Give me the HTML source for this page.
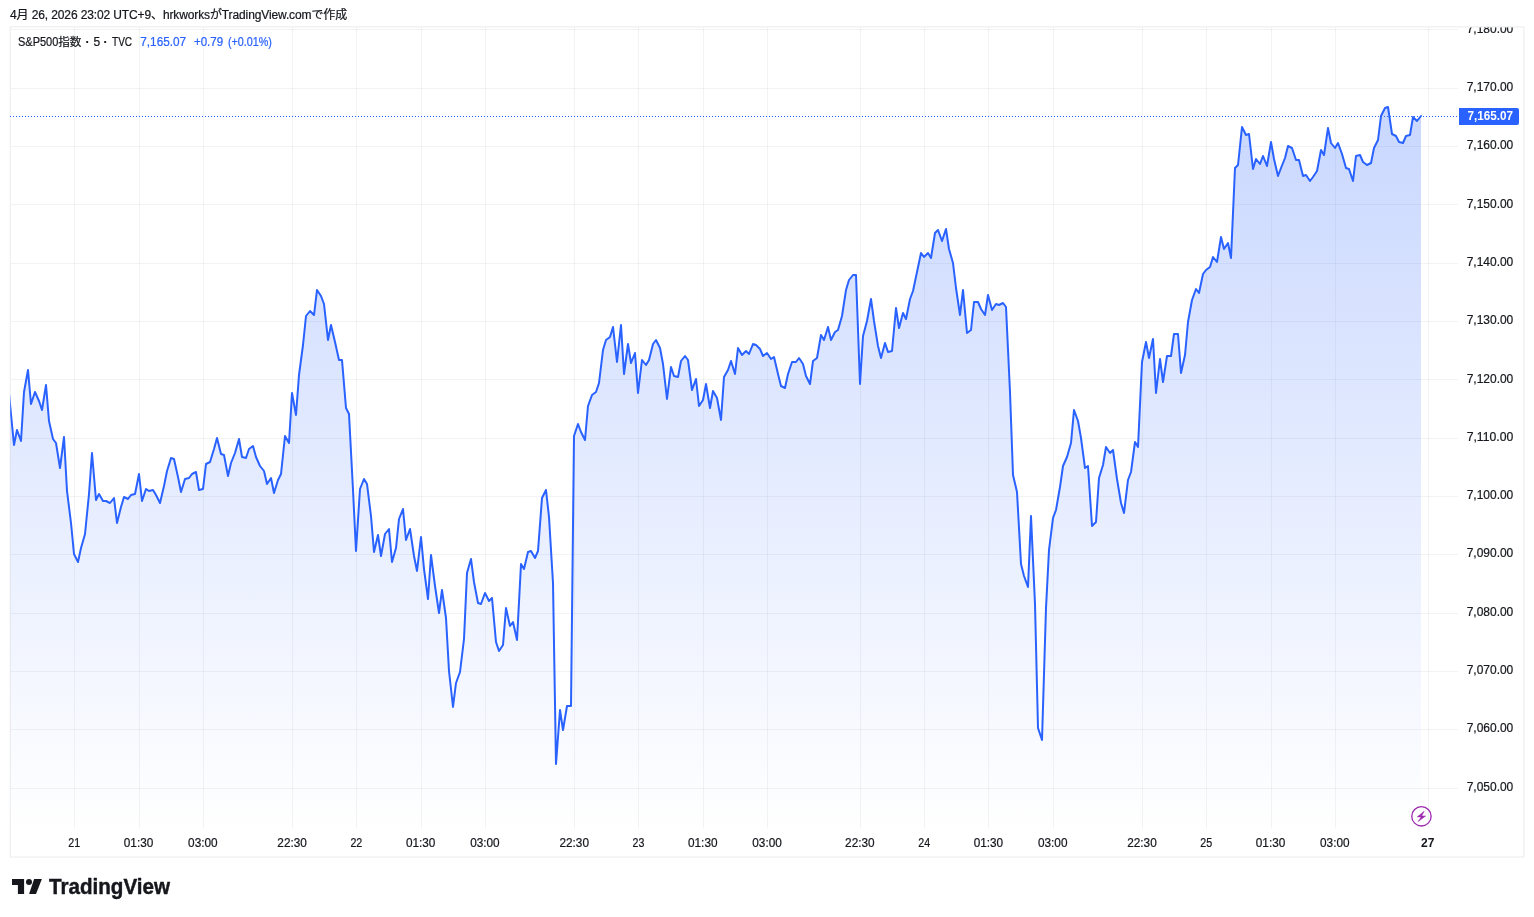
<!DOCTYPE html>
<html lang="ja"><head><meta charset="utf-8"><title>S&amp;P500指数 · 5 · TVC — TradingView</title>
<style>html,body{margin:0;padding:0;background:#fff;}body{width:1534px;height:917px;overflow:hidden;position:relative;font-family:"Liberation Sans", "Noto Sans CJK JP", sans-serif;}svg{position:absolute;left:0;top:0;display:block;}text{font-family:"Liberation Sans", "Noto Sans CJK JP", sans-serif;font-size:12px;fill:#16181d;stroke:#16181d;stroke-width:.22px;stroke-linejoin:round}.b{font-weight:bold;stroke-width:0}.v{fill:#2962FF;stroke:#2962FF}</style>
</head><body>
<svg width="1534" height="917" viewBox="0 0 1534 917">
<defs>
<linearGradient id="ag" gradientUnits="userSpaceOnUse" x1="0" y1="27" x2="0" y2="828.5"><stop offset="0" stop-color="#2962FF" stop-opacity="0.28"/><stop offset="1" stop-color="#2962FF" stop-opacity="0"/></linearGradient>
<clipPath id="pane"><rect x="10.2" y="27.4" width="1448" height="801.1"/></clipPath>
<clipPath id="axis"><rect x="1458" y="27.4" width="66" height="801.1"/></clipPath>
</defs>
<rect x="0" y="0" width="1534" height="917" fill="#fff"/>
<text x="10" y="19.2" textLength="337.2" lengthAdjust="spacing">4月 26, 2026 23:02 UTC+9、hrkworksがTradingView.comで作成</text>
<rect x="10.2" y="26.9" width="1513.7" height="830.1" fill="none" stroke="#ececec" stroke-width="1"/>
<path d="M74.5 27.4V828.5M139.5 27.4V828.5M203.5 27.4V828.5M292.5 27.4V828.5M356.5 27.4V828.5M421.5 27.4V828.5M485.5 27.4V828.5M574.5 27.4V828.5M638.5 27.4V828.5M703.5 27.4V828.5M767.5 27.4V828.5M860.5 27.4V828.5M924.5 27.4V828.5M988.5 27.4V828.5M1053.5 27.4V828.5M1142.5 27.4V828.5M1206.5 27.4V828.5M1271.5 27.4V828.5M1335.5 27.4V828.5M1428.5 27.4V828.5" fill="none" stroke="#2a2e39" stroke-opacity="0.06" stroke-width="1"/>
<path d="M10.7 29.5H1458M10.7 88.5H1458M10.7 146.5H1458M10.7 204.5H1458M10.7 263.5H1458M10.7 321.5H1458M10.7 379.5H1458M10.7 438.5H1458M10.7 496.5H1458M10.7 554.5H1458M10.7 613.5H1458M10.7 671.5H1458M10.7 729.5H1458M10.7 788.5H1458" fill="none" stroke="#2a2e39" stroke-opacity="0.06" stroke-width="1"/>
<g clip-path="url(#pane)">
<path d="M10 404L14 445L17 430L21 441L24 392L28 370L31 404L35 392L39 401L42 410L46 385L49 421L53 439L56 443L60 468L64 437L67 491L71 523L74 554L78 562L81 548L85 534L89 494L92 453L96 500L99 494L103 501L106 501L110 503L114 498L117 523L121 507L124 497L128 499L131 495L135 494L139 474L142 501L146 489L149 491L153 490L156 495L160 503L164 486L167 471L171 458L174 459L178 477L181 492L185 479L189 478L192 474L196 472L199 490L203 489L206 464L210 462L214 449L217 438L221 454L224 455L228 476L231 463L235 453L239 439L242 457L246 458L249 449L253 446L256 457L260 466L264 471L267 484L271 478L274 493L278 480L281 474L285 436L289 443L292 393L296 415L299 375L303 345L306 316L310 311L314 315L317 290L321 296L324 304L328 340L331 325L335 342L339 360L342 360L346 408L349 414L353 490L356 551L360 489L364 479L367 484L371 516L374 552L378 535L381 556L385 534L389 529L392 562L396 548L399 519L403 509L406 540L410 529L414 556L417 571L421 537L424 569L428 599L431 555L435 586L439 613L442 590L446 618L449 671L453 707L456 683L460 672L464 639L467 573L471 559L474 582L478 603L481 604L485 593L489 601L492 598L496 642L499 651L503 645L506 608L510 626L513 622L517 640L521 564L524 569L528 552L531 551L535 558L538 551L542 498L546 490L549 517L553 583L556 764L560 710L563 730L567 706L571 706L574 436L578 424L581 432L585 440L588 406L592 395L596 392L599 383L603 350L606 340L610 337L613 327L617 362L621 325L624 374L628 344L631 363L635 353L638 393L642 360L646 365L649 360L653 344L656 340L660 348L663 364L667 399L671 367L674 376L678 377L681 361L685 356L688 360L692 390L696 379L699 406L703 400L706 384L710 408L713 391L717 398L721 420L724 377L728 370L731 361L735 374L738 348L742 355L746 351L749 354L753 344L756 345L760 349L763 356L767 353L771 359L774 357L778 374L781 386L785 388L788 374L792 362L796 362L799 358L803 364L806 376L810 384L813 361L817 358L821 335L824 340L828 327L831 340L835 332L838 330L842 316L846 290L849 280L853 275L856 275L860 384L863 336L867 321L871 299L874 321L878 346L881 358L885 343L888 352L892 351L896 308L899 328L903 313L906 319L910 299L913 291L917 272L921 253L924 257L928 253L931 258L935 233L938 230L942 241L946 229L949 249L953 263L956 288L960 315L963 290L967 333L971 330L974 302L978 302L981 309L985 315L988 295L992 310L996 304L999 305L1003 303L1006 307L1010 392L1013 475L1017 492L1021 564L1024 576L1028 587L1031 516L1035 604L1038 728L1042 740L1046 608L1049 550L1053 518L1056 510L1060 487L1063 466L1067 457L1071 443L1074 410L1078 421L1081 438L1085 468L1088 466L1092 526L1096 522L1099 478L1103 465L1106 447L1110 453L1113 450L1117 479L1121 503L1124 513L1128 480L1131 472L1135 442L1138 447L1142 362L1146 342L1149 358L1153 339L1156 393L1160 359L1163 382L1167 356L1171 356L1174 334L1178 334L1181 373L1185 355L1188 322L1192 300L1196 289L1199 293L1203 274L1206 270L1210 267L1213 257L1217 262L1221 237L1224 249L1228 243L1231 258L1235 168L1238 165L1242 127L1246 135L1249 134L1253 169L1256 159L1260 164L1263 156L1267 166L1271 142L1274 159L1278 176L1281 168L1285 158L1288 146L1292 148L1296 160L1299 160L1303 176L1306 175L1310 181L1313 177L1317 171L1321 150L1324 155L1328 128L1331 143L1335 148L1338 143L1342 154L1346 168L1349 169L1353 181L1356 156L1360 155L1363 162L1367 165L1371 163L1374 148L1378 140L1381 116L1385 108L1388 107L1392 134L1396 136L1399 142L1403 143L1406 136L1410 135L1413 117L1417 121L1421 116L1421 828.5L10 828.5Z" fill="url(#ag)"/>
<path d="M6 362L10 404L14 445L17 430L21 441L24 392L28 370L31 404L35 392L39 401L42 410L46 385L49 421L53 439L56 443L60 468L64 437L67 491L71 523L74 554L78 562L81 548L85 534L89 494L92 453L96 500L99 494L103 501L106 501L110 503L114 498L117 523L121 507L124 497L128 499L131 495L135 494L139 474L142 501L146 489L149 491L153 490L156 495L160 503L164 486L167 471L171 458L174 459L178 477L181 492L185 479L189 478L192 474L196 472L199 490L203 489L206 464L210 462L214 449L217 438L221 454L224 455L228 476L231 463L235 453L239 439L242 457L246 458L249 449L253 446L256 457L260 466L264 471L267 484L271 478L274 493L278 480L281 474L285 436L289 443L292 393L296 415L299 375L303 345L306 316L310 311L314 315L317 290L321 296L324 304L328 340L331 325L335 342L339 360L342 360L346 408L349 414L353 490L356 551L360 489L364 479L367 484L371 516L374 552L378 535L381 556L385 534L389 529L392 562L396 548L399 519L403 509L406 540L410 529L414 556L417 571L421 537L424 569L428 599L431 555L435 586L439 613L442 590L446 618L449 671L453 707L456 683L460 672L464 639L467 573L471 559L474 582L478 603L481 604L485 593L489 601L492 598L496 642L499 651L503 645L506 608L510 626L513 622L517 640L521 564L524 569L528 552L531 551L535 558L538 551L542 498L546 490L549 517L553 583L556 764L560 710L563 730L567 706L571 706L574 436L578 424L581 432L585 440L588 406L592 395L596 392L599 383L603 350L606 340L610 337L613 327L617 362L621 325L624 374L628 344L631 363L635 353L638 393L642 360L646 365L649 360L653 344L656 340L660 348L663 364L667 399L671 367L674 376L678 377L681 361L685 356L688 360L692 390L696 379L699 406L703 400L706 384L710 408L713 391L717 398L721 420L724 377L728 370L731 361L735 374L738 348L742 355L746 351L749 354L753 344L756 345L760 349L763 356L767 353L771 359L774 357L778 374L781 386L785 388L788 374L792 362L796 362L799 358L803 364L806 376L810 384L813 361L817 358L821 335L824 340L828 327L831 340L835 332L838 330L842 316L846 290L849 280L853 275L856 275L860 384L863 336L867 321L871 299L874 321L878 346L881 358L885 343L888 352L892 351L896 308L899 328L903 313L906 319L910 299L913 291L917 272L921 253L924 257L928 253L931 258L935 233L938 230L942 241L946 229L949 249L953 263L956 288L960 315L963 290L967 333L971 330L974 302L978 302L981 309L985 315L988 295L992 310L996 304L999 305L1003 303L1006 307L1010 392L1013 475L1017 492L1021 564L1024 576L1028 587L1031 516L1035 604L1038 728L1042 740L1046 608L1049 550L1053 518L1056 510L1060 487L1063 466L1067 457L1071 443L1074 410L1078 421L1081 438L1085 468L1088 466L1092 526L1096 522L1099 478L1103 465L1106 447L1110 453L1113 450L1117 479L1121 503L1124 513L1128 480L1131 472L1135 442L1138 447L1142 362L1146 342L1149 358L1153 339L1156 393L1160 359L1163 382L1167 356L1171 356L1174 334L1178 334L1181 373L1185 355L1188 322L1192 300L1196 289L1199 293L1203 274L1206 270L1210 267L1213 257L1217 262L1221 237L1224 249L1228 243L1231 258L1235 168L1238 165L1242 127L1246 135L1249 134L1253 169L1256 159L1260 164L1263 156L1267 166L1271 142L1274 159L1278 176L1281 168L1285 158L1288 146L1292 148L1296 160L1299 160L1303 176L1306 175L1310 181L1313 177L1317 171L1321 150L1324 155L1328 128L1331 143L1335 148L1338 143L1342 154L1346 168L1349 169L1353 181L1356 156L1360 155L1363 162L1367 165L1371 163L1374 148L1378 140L1381 116L1385 108L1388 107L1392 134L1396 136L1399 142L1403 143L1406 136L1410 135L1413 117L1417 121L1421 116" fill="none" stroke="#2962FF" stroke-width="2" stroke-linejoin="round" stroke-linecap="round"/>
</g>
<path d="M10 116.5H1458" fill="none" stroke="#2962FF" stroke-width="1" stroke-dasharray="1 2"/>
<g clip-path="url(#axis)">
<text x="1466.7" y="33" textLength="46.6" lengthAdjust="spacingAndGlyphs">7,180.00</text>
<text x="1466.7" y="90.9" textLength="46.6" lengthAdjust="spacingAndGlyphs">7,170.00</text>
<text x="1466.7" y="148.9" textLength="46.6" lengthAdjust="spacingAndGlyphs">7,160.00</text>
<text x="1466.7" y="207.9" textLength="46.6" lengthAdjust="spacingAndGlyphs">7,150.00</text>
<text x="1466.7" y="265.9" textLength="46.6" lengthAdjust="spacingAndGlyphs">7,140.00</text>
<text x="1466.7" y="323.9" textLength="46.6" lengthAdjust="spacingAndGlyphs">7,130.00</text>
<text x="1466.7" y="382.8" textLength="46.6" lengthAdjust="spacingAndGlyphs">7,120.00</text>
<text x="1466.7" y="440.9" textLength="46.6" lengthAdjust="spacingAndGlyphs">7,110.00</text>
<text x="1466.7" y="498.9" textLength="46.6" lengthAdjust="spacingAndGlyphs">7,100.00</text>
<text x="1466.7" y="556.9" textLength="46.6" lengthAdjust="spacingAndGlyphs">7,090.00</text>
<text x="1466.7" y="615.9" textLength="46.6" lengthAdjust="spacingAndGlyphs">7,080.00</text>
<text x="1466.7" y="673.9" textLength="46.6" lengthAdjust="spacingAndGlyphs">7,070.00</text>
<text x="1466.7" y="731.9" textLength="46.6" lengthAdjust="spacingAndGlyphs">7,060.00</text>
<text x="1466.7" y="790.9" textLength="46.6" lengthAdjust="spacingAndGlyphs">7,050.00</text>
</g>
<path d="M1459 108h58a2 2 0 0 1 2 2v13a2 2 0 0 1 -2 2h-58z" fill="#2962FF"/>
<text class="b" x="1467.4" y="119.8" textLength="45.6" lengthAdjust="spacingAndGlyphs" style="fill:#fff">7,165.07</text>
<text x="68.33" y="847" textLength="11.9" lengthAdjust="spacingAndGlyphs">21</text>
<text x="123.80" y="847" textLength="29.5" lengthAdjust="spacingAndGlyphs">01:30</text>
<text x="188.08" y="847" textLength="29.5" lengthAdjust="spacingAndGlyphs">03:00</text>
<text x="277.35" y="847" textLength="29.5" lengthAdjust="spacingAndGlyphs">22:30</text>
<text x="350.43" y="847" textLength="11.9" lengthAdjust="spacingAndGlyphs">22</text>
<text x="405.90" y="847" textLength="29.5" lengthAdjust="spacingAndGlyphs">01:30</text>
<text x="470.18" y="847" textLength="29.5" lengthAdjust="spacingAndGlyphs">03:00</text>
<text x="559.45" y="847" textLength="29.5" lengthAdjust="spacingAndGlyphs">22:30</text>
<text x="632.53" y="847" textLength="11.9" lengthAdjust="spacingAndGlyphs">23</text>
<text x="688.00" y="847" textLength="29.5" lengthAdjust="spacingAndGlyphs">01:30</text>
<text x="752.28" y="847" textLength="29.5" lengthAdjust="spacingAndGlyphs">03:00</text>
<text x="845.12" y="847" textLength="29.5" lengthAdjust="spacingAndGlyphs">22:30</text>
<text x="918.20" y="847" textLength="11.9" lengthAdjust="spacingAndGlyphs">24</text>
<text x="973.68" y="847" textLength="29.5" lengthAdjust="spacingAndGlyphs">01:30</text>
<text x="1037.95" y="847" textLength="29.5" lengthAdjust="spacingAndGlyphs">03:00</text>
<text x="1127.23" y="847" textLength="29.5" lengthAdjust="spacingAndGlyphs">22:30</text>
<text x="1200.30" y="847" textLength="11.9" lengthAdjust="spacingAndGlyphs">25</text>
<text x="1255.78" y="847" textLength="29.5" lengthAdjust="spacingAndGlyphs">01:30</text>
<text x="1320.05" y="847" textLength="29.5" lengthAdjust="spacingAndGlyphs">03:00</text>
<text class="b" x="1420.95" y="847" textLength="13.4" lengthAdjust="spacingAndGlyphs">27</text>
<text y="46.1"><tspan x="18" textLength="40.3" lengthAdjust="spacingAndGlyphs">S&amp;P500</tspan><tspan x="58.2" style="font-size:11.6px">指数 </tspan><tspan x="85.6" style="font-weight:bold">· </tspan><tspan x="93.6">5 </tspan><tspan x="103.4" style="font-weight:bold">· </tspan><tspan x="112" textLength="20.1" lengthAdjust="spacingAndGlyphs">TVC</tspan></text>
<text class="v" x="140.3" y="46.1" textLength="45.8" lengthAdjust="spacingAndGlyphs">7,165.07</text>
<text class="v" y="46.1"><tspan x="193.9" textLength="29.2" lengthAdjust="spacingAndGlyphs">+0.79</tspan><tspan> </tspan><tspan x="227.9" textLength="44" lengthAdjust="spacingAndGlyphs">(+0.01%)</tspan></text>
<g transform="translate(1421.45 816.3)" fill="none" stroke="#9c27b0">
<circle cx="0" cy="0" r="9.7" stroke-width="1.3"/>
<path d="M2.7 -5.1L-4.2 0.6H-0.2L-3.3 5.3L4.2 -0.3H0.2Z" fill="#9c27b0" stroke="#9c27b0" stroke-width="0.5" stroke-linejoin="round"/>
</g>
<g fill="#15171c">
<path d="M12 879H24.1V893.9H17.9V885.1H12Z"/>
<circle cx="29" cy="882" r="3"/>
<path d="M34.1 879H41.9L36 893.9H29.1Z"/>
<text class="b" x="49.1" y="893.9" textLength="120.9" lengthAdjust="spacingAndGlyphs" style="font-size:21.3px;fill:#15171c;stroke:#15171c;stroke-width:0.45px;stroke-linejoin:round">TradingView</text>
</g>
</svg>
</body></html>
